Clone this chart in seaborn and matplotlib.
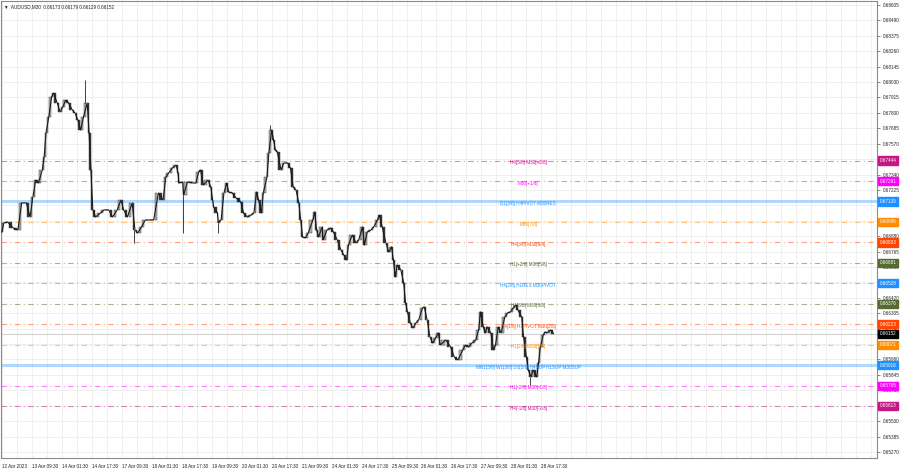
import pandas as pd
import matplotlib
matplotlib.use("Agg")
import matplotlib.pyplot as plt
import seaborn as sns

# M30 bar number (0 = first bar on screen, 12 Apr 2023) and close
bars = [0, 2, 6, 12, 17, 21, 26, 30, 33, 36, 39, 43, 45, 47, 50, 53, 55, 59, 62, 65,
        68, 71, 75, 78, 81, 84, 87, 91, 93, 95, 97, 100, 105, 109, 114, 118, 123, 127, 130, 134,
        139, 142, 145, 149, 153, 157, 162, 167, 172, 175, 178, 182, 186, 188, 189, 193, 194, 198, 204, 207,
        210, 212, 215, 220, 223, 225, 226, 230, 231, 234, 237, 240, 242, 246, 250, 255, 258, 262, 266, 269,
        272, 274, 277, 279, 283, 285, 288, 290, 292, 294, 298, 301, 305, 308, 311, 314, 317, 319, 321, 324,
        327, 332, 334, 336, 338, 342, 343, 347, 351, 354, 358, 362, 365, 368, 370, 374, 378, 381, 385, 387,
        390, 394, 397, 401, 403, 406, 410, 413, 416, 418, 420, 422, 426, 429, 431, 433, 436, 439, 442, 445,
        449, 451, 454, 457, 460, 463, 466, 468, 474, 479, 483, 487, 492, 495, 498, 502, 506, 509, 511, 514,
        516, 518, 522, 525, 527, 530, 533, 537, 540, 543, 546, 549, 551, 555, 557, 560, 562, 565, 567, 571,
        573, 575, 578, 580, 582, 586, 589]
closes = [0.66911, 0.66979, 0.66986, 0.66941, 0.66926, 0.67128, 0.67128, 0.67023, 0.67173, 0.67299,
          0.67277, 0.67374, 0.67471, 0.67650, 0.67769, 0.67919, 0.67948, 0.67874, 0.67807, 0.67844,
          0.67896, 0.67874, 0.67822, 0.67799, 0.67747, 0.67672, 0.67769, 0.67874, 0.67650, 0.67374,
          0.67076, 0.67023, 0.67053, 0.67076, 0.67076, 0.67023, 0.67076, 0.67150, 0.67076, 0.67023,
          0.67128, 0.66926, 0.66904, 0.66949, 0.67001, 0.67001, 0.67001, 0.67202, 0.67150, 0.67322,
          0.67352, 0.67389, 0.67411, 0.67352, 0.67277, 0.67284, 0.67187, 0.67284, 0.67277, 0.67277,
          0.67359, 0.67374, 0.67262, 0.67299, 0.67247, 0.67150, 0.67098, 0.67053, 0.66979, 0.67001,
          0.67202, 0.67277, 0.67210, 0.67202, 0.67165, 0.67135, 0.67053, 0.67023, 0.67038, 0.67053,
          0.67210, 0.67150, 0.67053, 0.67202, 0.67322, 0.67501, 0.67672, 0.67598, 0.67523, 0.67508,
          0.67374, 0.67426, 0.67426, 0.67389, 0.67247, 0.67225, 0.67128, 0.67001, 0.66874, 0.66867,
          0.66904, 0.67001, 0.67061, 0.66926, 0.66874, 0.66949, 0.66852, 0.66926, 0.66941, 0.66911,
          0.66852, 0.66777, 0.66740, 0.66703, 0.66814, 0.66889, 0.66829, 0.66852, 0.66949, 0.66814,
          0.66911, 0.66926, 0.66949, 0.67001, 0.67038, 0.66949, 0.66829, 0.66762, 0.66800, 0.66703,
          0.66576, 0.66665, 0.66628, 0.66531, 0.66382, 0.66315, 0.66232, 0.66195, 0.66232, 0.66255,
          0.66344, 0.66352, 0.66255, 0.66128, 0.66083, 0.66121, 0.66158, 0.66068, 0.66106, 0.66053,
          0.65979, 0.65956, 0.66031, 0.66068, 0.66053, 0.66083, 0.66106, 0.66180, 0.66315, 0.66203,
          0.66158, 0.66203, 0.66158, 0.66031, 0.66068, 0.66203, 0.66158, 0.66277, 0.66307, 0.66315,
          0.66344, 0.66367, 0.66329, 0.66277, 0.66128, 0.65979, 0.65882, 0.65830, 0.65882, 0.65830,
          0.65934, 0.66053, 0.66143, 0.66165, 0.66158, 0.66180, 0.66152]

# long shadows that stick out of the body
wick_bars = [91, 142, 194, 231, 288, 565]
wick_prices = [0.68045, 0.66829, 0.66904, 0.66904, 0.67710, 0.65770]

# murrey math levels drawn by the indicator
level_prices = [0.67444, 0.67291, 0.67139, 0.66986, 0.66833, 0.66681, 0.66528,
                0.66376, 0.66223, 0.66071, 0.65918, 0.65765, 0.65613]
level_names = ["H4[5/8] M30[+2/8]", "M30[+1/8]", "D1[3/8] H4PIVOT M30RES", "M30[7/8]",
               "H4[3/8] M30[6/8]", "H1[+2/8] M30[5/8]", "H4[2/8] H1RES M30PIVOT",
               "H1[8/8] M30[3/8]", "H4[1/8] H1PIVOT M30[2/8]", "H1[2/8] M30[1/8]",
               "MN1[3/8] W1[3/8] D1[2/8] H4SUP H1SUP M30SUP", "H1[-2/8] M30[-1/8]",
               "H4[-1/8] M30[-2/8]"]
level_colors = ["#c71585", "#ff00ff", "#1e90ff", "#ff8c00", "#ff4500", "#556b2f", "#1e90ff",
                "#556b2f", "#ff4500", "#ff8c00", "#1e90ff", "#ff00ff", "#c71585"]
major_levels = [0.67139, 0.65918]

last_price = 0.66152
header = "\u25BC  AUDUSD,M30  0.66173 0.66179 0.66129 0.66152"

price_ticks = [0.65270, 0.65385, 0.65500, 0.65615, 0.65730, 0.65845, 0.65960, 0.66075,
               0.66190, 0.66305, 0.66420, 0.66535, 0.66650, 0.66765, 0.66880, 0.66995,
               0.67110, 0.67225, 0.67340, 0.67455, 0.67570, 0.67685, 0.67800, 0.67915,
               0.68030, 0.68145, 0.68260, 0.68375, 0.68490, 0.68605]
time_ticks = [0, 32, 64, 96, 128, 160, 192, 224, 256, 288, 320, 352, 384, 416, 448,
              480, 512, 544, 576]
time_labels = ["12 Apr 2023", "13 Apr 09:30", "14 Apr 01:30", "14 Apr 17:30", "17 Apr 09:30",
               "18 Apr 01:30", "18 Apr 17:30", "19 Apr 09:30", "20 Apr 01:30", "20 Apr 17:30",
               "21 Apr 09:30", "24 Apr 01:30", "24 Apr 17:30", "25 Apr 09:30", "26 Apr 01:30",
               "26 Apr 17:30", "27 Apr 09:30", "28 Apr 01:30", "28 Apr 17:30"]

sns.set_style("white")
plt.rcParams['font.family'] = ['Liberation Sans', 'DejaVu Sans']
FS = 3.3

fig = plt.figure(figsize=(9, 4.68), dpi=100)
ax = fig.add_axes([0.0011, 0.0214, 0.9733, 0.9765])

df = pd.DataFrame({'bar': bars, 'close': closes})
df['open'] = df['close'].shift(1).fillna(df['close'].iloc[0])
df['gap'] = df['bar'].diff().fillna(2)

# grid first
for b in range(0, 940, 16):
    ax.axvline(b, color='#ececec', lw=0.6, zorder=0)
for p in price_ticks:
    ax.axhline(p, color='#ececec', lw=0.6, zorder=0)

# level lines
for p, c in zip(level_prices, level_colors):
    if p in major_levels:
        ax.axhline(p, color=c, lw=2.2, alpha=0.35, zorder=1)
    else:
        ax.axhline(p, color=c, lw=0.8, alpha=0.5, ls=(0, (5, 3, 1, 3)), zorder=1)
ax.axhline(last_price, color='#c8c8c8', lw=0.6, zorder=1)

# candles
up = df['close'] >= df['open']
body_lo = df[['open', 'close']].min(axis=1)
body_h = (df['close'] - df['open']).abs().clip(lower=0.00002)
ax.bar(df['bar'] - df['gap'] / 2, body_h, bottom=body_lo, width=df['gap'] * 0.55,
       color=['#b5b5b5' if u else '#3a3a3a' for u in up], edgecolor='#2a2a2a',
       linewidth=0.3, zorder=3)
sns.lineplot(x='bar', y='close', data=df, ax=ax, color='#1a1a1a', lw=0.8, zorder=4)
for b, w in zip(wick_bars, wick_prices):
    row = df[df['bar'] == b].iloc[0]
    base = max(row['open'], row['close']) if w > row['close'] else min(row['open'], row['close'])
    ax.vlines(b - row['gap'] / 2, min(base, w), max(base, w), color='#222222', lw=0.6, zorder=3)

# level captions in the chart
for p, name, c in zip(level_prices, level_names, level_colors):
    ax.annotate(name, xy=(562, p), xytext=(0, -1.5), textcoords='offset points',
                ha='center', va='center', fontsize=FS, color=c, zorder=6)

# price boxes on the right scale
box_prices = level_prices + [last_price]
box_colors = level_colors + ['black']
for p, c in zip(box_prices, box_colors):
    ax.text(1.003, p, f"{p:.5f}", transform=ax.get_yaxis_transform(), ha='left', va='center',
            fontsize=FS, color='white', zorder=10, clip_on=False,
            bbox=dict(boxstyle='square,pad=0.35', facecolor=c, edgecolor=c))

ax.set_xlim(-1.07, 934.4)
ax.set_ylim(0.65225, 0.68635)

ax.yaxis.tick_right()
ax.set_yticks(price_ticks)
ax.set_yticklabels([f"{p:.5f}" for p in price_ticks])
ax.set_xticks(time_ticks)
ax.set_xticklabels(time_labels, ha='left')
ax.tick_params(axis='both', labelsize=FS, length=2.5, width=0.5, color='#555555',
               labelcolor='#222222', pad=1.5)
ax.set_xlabel('')
ax.set_ylabel('')
for s in ax.spines.values():
    s.set_color('#8a8a8a')
    s.set_linewidth(0.8)

ax.text(0.004, 0.992, header, transform=ax.transAxes, ha='left', va='top',
        fontsize=FS, color='#222222', zorder=10)

fig.savefig('out.png', dpi=100)
